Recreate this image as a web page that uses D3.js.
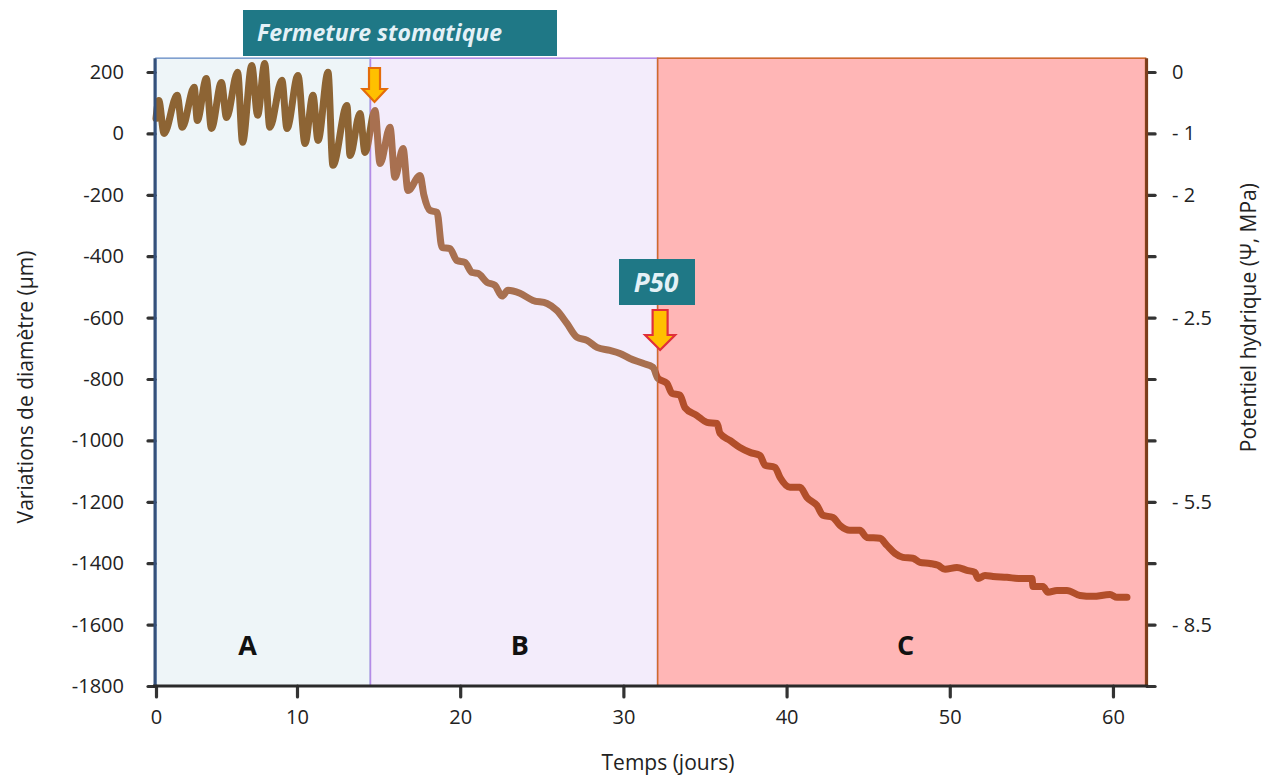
<!DOCTYPE html>
<html><head><meta charset="utf-8">
<script src="https://cdn.jsdelivr.net/npm/d3@7"></script>
<style>body{margin:0;background:#fff;} svg{display:block;font-family:'Open Sans',sans-serif;}</style>
</head><body><svg id="chart" width="1270" height="776"></svg>
<script>
// ---- data ----
const days = [0,0.2,0.57,1.5,1.86,2.71,2.93,3.57,3.93,4.64,5.0,5.79,6.14,6.79,7.21,7.71,8.07,8.93,9.29,10.06,10.49,10.98,11.29,11.9,12.2,13.06,13.25,13.86,14.17,
  14.78,15.09,15.7,16.0,16.5,16.8,17.54,17.78,18.15,18.58,18.88,19.37,19.8,20.29,20.72,21.09,21.64,22.13,22.56,22.93,23.66,24.46,25.32,25.93,26.54,27.16,27.77,28.38,29.18,29.79,30.4,31.2,31.81,
  32.12,32.67,32.98,33.47,33.77,34.51,35.12,35.74,35.92,36.53,37.14,37.76,38.37,38.68,39.29,39.6,40.21,40.82,41.25,41.86,42.23,42.84,43.27,43.88,44.49,44.92,45.72,46.15,46.64,47.13,47.74,48.17,48.79,49.28,49.71,50.44,51.05,51.54,51.73,52.16,52.65,53.5,54.3,55.04,55.1,55.71,56.02,56.57,57.18,57.98,58.77,59.82,60.25,60.86];
const diameter = [49,107,0,124,20,150,42,179,16,166,52,199,-29,221,59,228,20,173,16,189,-33,124,-23,199,-104,91,-72,65,-62,
  75,-98,20,-143,-49,-186,-137,-202,-251,-257,-371,-375,-414,-420,-453,-456,-485,-495,-530,-511,-521,-544,-554,-577,-619,-664,-674,-697,-707,-717,-733,-749,-762,
  -798,-814,-847,-853,-893,-919,-941,-945,-977,-1000,-1023,-1039,-1049,-1081,-1088,-1121,-1153,-1153,-1186,-1212,-1244,-1251,-1277,-1293,-1293,-1316,-1319,-1342,-1368,-1381,-1384,-1397,-1401,-1407,-1420,-1414,-1423,-1430,-1450,-1440,-1443,-1446,-1450,-1450,-1476,-1476,-1495,-1489,-1489,-1505,-1508,-1502,-1511,-1511];
const xTicks = [0,10,20,30,40,50,60];
const yTicks = [200,0,-200,-400,-600,-800,-1000,-1200,-1400,-1600,-1800];
const psiLabels = ["0","- 1","- 2","","- 2.5","","","- 5.5","","- 8.5",""];
const phases = ["A","B","C"];
const phaseStart = [0,14.5,32.1];
const phaseEnd = [14.5,32.1,62];
const closureDay = 14.75;
const p50Day = 32.25;

// ---- scales ----
const svg = d3.select("#chart");
const x = d3.scaleLinear().domain([0,10,62]).range([156,297,1145.6]);
const y = d3.scaleLinear().domain([-1800,200]).range([686,72]);
const yMax = 245;

const fills = ["#eef5f8","#f3ecfb","#ffb6b6"];
const strokes = ["#7f9fcf","#b48be6","#cf6a2e"];
const lineCols = ["#8d6434","#a87050","#b24e2a"];

// phase backgrounds
const g = svg.append("g");
g.selectAll("rect.ph").data(phases).join("rect").attr("class","ph")
  .attr("x",(d,i)=>x(phaseStart[i])).attr("width",(d,i)=>x(phaseEnd[i])-x(phaseStart[i]))
  .attr("y",y(yMax)).attr("height",y(-1800)-y(yMax))
  .attr("fill",(d,i)=>fills[i]).attr("stroke",(d,i)=>strokes[i]).attr("stroke-width",1.6);

// phase letters
const letterDays = [6.5,23.66,47.3];
g.selectAll("text.ph").data(phases).join("text").attr("class","ph")
  .attr("x",(d,i)=>x(letterDays[i])).attr("y",y(-1700))
  .attr("text-anchor","middle").attr("font-size",27).attr("font-weight",700).attr("fill","#111")
  .text(d=>d);

// gradient for line
const x0 = x(0), x1 = x(62);
const defs = svg.append("defs");
const lg = defs.append("linearGradient").attr("id","lg").attr("gradientUnits","userSpaceOnUse")
  .attr("x1",x0).attr("x2",x1).attr("y1",0).attr("y2",0);
phases.forEach((p,i)=>{
  lg.append("stop").attr("offset",(x(phaseStart[i])-x0)/(x1-x0)).attr("stop-color",lineCols[i]);
  lg.append("stop").attr("offset",(x(phaseEnd[i])-x0)/(x1-x0)).attr("stop-color",lineCols[i]);
});

const line = d3.line().x((d,i)=>x(days[i])).y((d,i)=>y(diameter[i])).curve(d3.curveMonotoneX);
svg.append("path").datum(diameter).attr("d",line).attr("fill","none")
  .attr("stroke","url(#lg)").attr("stroke-width",7).attr("stroke-linecap","round").attr("stroke-linejoin","round");

// axes
const tickStyle = sel => {
  sel.select(".domain").remove();
  sel.selectAll(".tick line").attr("stroke","#333").attr("stroke-width",3.2).attr("stroke-linecap","round");
  sel.selectAll(".tick text").attr("fill","#222").attr("font-family","'Open Sans',sans-serif");
};
const left = svg.append("g").attr("transform",`translate(${x(0)-1},0)`)
  .call(d3.axisLeft(y).tickValues(yTicks).tickSize(7).tickPadding(24).tickFormat(d=>String(d)));
tickStyle(left); left.selectAll("text").attr("font-size",20);

const right = svg.append("g").attr("transform",`translate(${x(62)+1.5},0)`)
  .call(d3.axisRight(y).tickValues(yTicks).tickSize(8).tickPadding(17).tickFormat((d,i)=>psiLabels[i]));
tickStyle(right); right.selectAll("text").attr("font-size",20);

const bottom = svg.append("g").attr("transform",`translate(0,${y(-1800)})`)
  .call(d3.axisBottom(x).tickValues(xTicks).tickSize(11).tickPadding(13).tickFormat(d=>String(d)));
tickStyle(bottom); bottom.selectAll("text").attr("font-size",20);

// axis lines
svg.append("line").attr("x1",x(0)-1).attr("x2",x(0)-1).attr("y1",y(yMax)).attr("y2",y(-1800)+1)
  .attr("stroke","#34507a").attr("stroke-width",3);
svg.append("line").attr("x1",x(62)+1).attr("x2",x(62)+1).attr("y1",y(yMax)).attr("y2",y(-1800)+1)
  .attr("stroke","#7a3d1c").attr("stroke-width",3);
svg.append("line").attr("x1",x(0)-3).attr("x2",x(62)+2.5).attr("y1",y(-1800)).attr("y2",y(-1800))
  .attr("stroke","#2a2a2a").attr("stroke-width",3);

// axis titles
svg.append("text").attr("x",668).attr("y",770).attr("text-anchor","middle").attr("font-size",21).attr("fill","#222").text("Temps (jours)");
svg.append("text").attr("transform",`translate(33,${y(-800)+8}) rotate(-90)`).attr("text-anchor","middle").attr("font-size",21).attr("fill","#222").text("Variations de diamètre (µm)");
svg.append("text").attr("transform",`translate(1256,${y(-600)}) rotate(-90)`).attr("text-anchor","middle").attr("font-size",21).attr("fill","#222").text("Potentiel hydrique (Ψ, MPa)");

// arrows
function arrow(cx, top, hs, tip, sw, hw, fill, stroke){
  const pts = [[cx-sw/2,top],[cx+sw/2,top],[cx+sw/2,hs],[cx+hw/2,hs],[cx,tip],[cx-hw/2,hs],[cx-sw/2,hs]];
  svg.append("polygon").attr("points",pts.map(p=>p.join(",")).join(" "))
    .attr("fill",fill).attr("stroke",stroke).attr("stroke-width",2.2).attr("stroke-linejoin","miter");
}
arrow(x(closureDay), 68, 89, 102, 11, 24, "#ffc000", "#e46c0a");
arrow(x(p50Day), 310, 335, 350, 15, 30, "#ffc000", "#e0303a");

// label boxes
function box(x0,y0,w,h,txt,tx,ty,fs,anchor){
  svg.append("rect").attr("x",x0).attr("y",y0).attr("width",w).attr("height",h).attr("fill","#1f7886");
  svg.append("text").attr("x",tx).attr("y",ty).attr("text-anchor",anchor).attr("font-size",fs)
    .attr("font-weight",700).attr("font-style","italic").attr("fill","#e4f1f7").text(txt);
}
box(243,10,314,46,"Fermeture stomatique",257,41,23,"start");
box(619,259,76,46,"P50",656,292,26,"middle");
</script></body></html>
